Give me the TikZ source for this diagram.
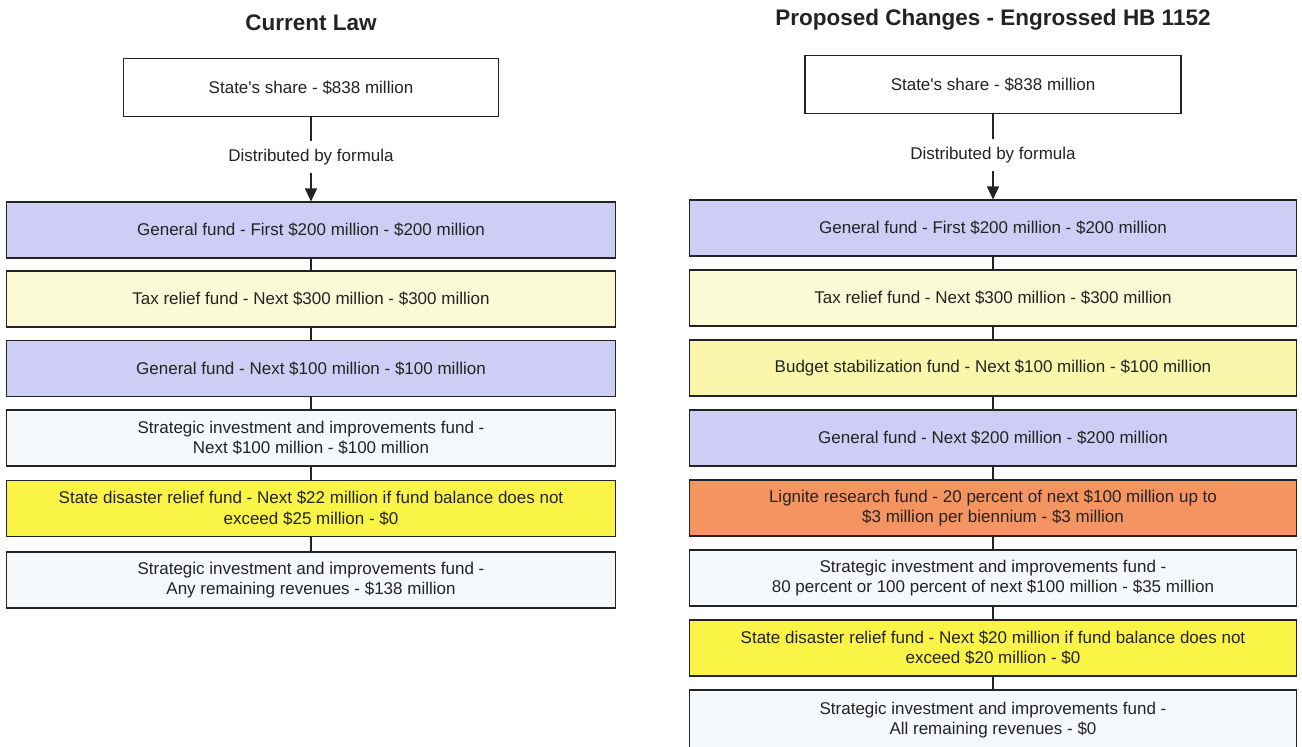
\documentclass[tikz,border=0pt]{standalone}
\usepackage{fontspec}
\setmainfont{Liberation Sans}
\usetikzlibrary{arrows.meta}
\definecolor{genfund}{RGB}{205,205,245}
\definecolor{taxfund}{RGB}{250,250,214}
\definecolor{budfund}{RGB}{250,246,172}
\definecolor{sdrfund}{RGB}{250,244,70}
\definecolor{ligfund}{RGB}{244,148,96}
\definecolor{sifund}{RGB}{245,249,252}
\definecolor{inkgray}{RGB}{35,35,35}
\begin{document}
\begin{tikzpicture}[x=1pt,y=-1pt,
    every node/.style={text=inkgray},
    fundbox/.style={draw=inkgray, line width=1.1pt, rectangle, inner sep=0pt,
        minimum height=56pt, align=center, font=\fontsize{17}{20.5}\selectfont},
    lbox/.style={fundbox, minimum width=609pt},
    rbox/.style={fundbox, minimum width=607pt},
    sharebox/.style={fundbox, fill=white, minimum width=375pt, minimum height=58pt},
    title/.style={font=\fontsize{22.5}{26}\selectfont\bfseries},
    note/.style={font=\fontsize{17}{20}\selectfont, inner sep=0pt},
    link/.style={draw=inkgray, line width=1.1pt},
    flow/.style={link, -{Triangle[width=12pt,length=13pt]}}]
    \useasboundingbox (0,0) rectangle (1302,747);
    % current law
    \node [title] (curtitle) at (311,23) {Current Law};
    \node [sharebox] (curshare) at (311,87.5) {State\textquotesingle s share - \$838 million};
    \node [note] (curdist) at (311,157) {Distributed by formula};
    \node [lbox, fill=genfund] (curA) at (311,230) {General fund - First \$200 million - \$200 million};
    \node [lbox, fill=taxfund] (curB) at (311,299) {Tax relief fund - Next \$300 million - \$300 million};
    \node [lbox, fill=genfund] (curC) at (311,368.5) {General fund - Next \$100 million - \$100 million};
    \node [lbox, fill=sifund] (curD) at (311,438) {Strategic investment and improvements fund -\\Next \$100 million - \$100 million};
    \node [lbox, fill=sdrfund] (curE) at (311,508.5) {State disaster relief fund - Next \$22 million if fund balance does not\\exceed \$25 million - \$0};
    \node [lbox, fill=sifund] (curF) at (311,580) {Strategic investment and improvements fund -\\Any remaining revenues - \$138 million};
    \draw [link] (curshare.south) -- ([yshift=8pt]curdist.north);
    \draw [flow] ([yshift=-8pt]curdist.south) -- (curA.north);
    \draw [link] (curA) -- (curB);
    \draw [link] (curB) -- (curC);
    \draw [link] (curC) -- (curD);
    \draw [link] (curD) -- (curE);
    \draw [link] (curE) -- (curF);
    % proposed changes
    \node [title] (newtitle) at (993,20) {Proposed Changes - Engrossed HB 1152};
    \node [sharebox, minimum width=376pt] (newshare) at (993,84.5) {State\textquotesingle s share - \$838 million};
    \node [note] (newdist) at (993,155) {Distributed by formula};
    \node [rbox, fill=genfund] (newA) at (993,228) {General fund - First \$200 million - \$200 million};
    \node [rbox, fill=taxfund] (newB) at (993,298) {Tax relief fund - Next \$300 million - \$300 million};
    \node [rbox, fill=budfund] (newC) at (993,368) {Budget stabilization fund - Next \$100 million - \$100 million};
    \node [rbox, fill=genfund] (newD) at (993,438) {General fund - Next \$200 million - \$200 million};
    \node [rbox, fill=ligfund] (newE) at (993,508) {Lignite research fund - 20 percent of next \$100 million up to\\\$3 million per biennium - \$3 million};
    \node [rbox, fill=sifund] (newF) at (993,578) {Strategic investment and improvements fund -\\80 percent or 100 percent of next \$100 million - \$35 million};
    \node [rbox, fill=sdrfund] (newG) at (993,648) {State disaster relief fund - Next \$20 million if fund balance does not\\exceed \$20 million - \$0};
    \node [rbox, fill=sifund, minimum height=60pt] (newH) at (993,720) {Strategic investment and improvements fund -\\All remaining revenues - \$0};
    \draw [link] (newshare.south) -- ([yshift=8pt]newdist.north);
    \draw [flow] ([yshift=-8pt]newdist.south) -- (newA.north);
    \draw [link] (newA) -- (newB);
    \draw [link] (newB) -- (newC);
    \draw [link] (newC) -- (newD);
    \draw [link] (newD) -- (newE);
    \draw [link] (newE) -- (newF);
    \draw [link] (newF) -- (newG);
    \draw [link] (newG) -- (newH);
\end{tikzpicture}
\end{document}
